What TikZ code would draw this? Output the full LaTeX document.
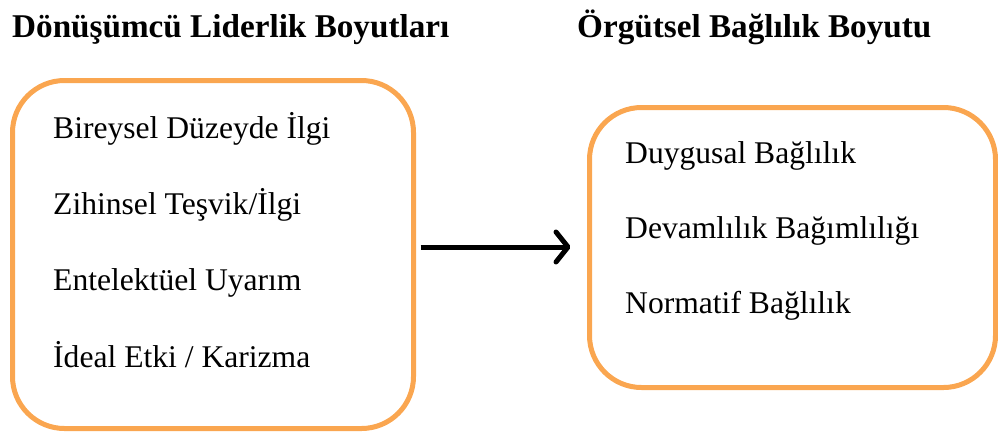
\documentclass[tikz,border=0pt]{standalone}
\usepackage{fontspec}
\setmainfont{Liberation Serif}
\usetikzlibrary{arrows.meta}
\begin{document}
\begin{tikzpicture}[x=1pt,y=-1pt,
  groupbox/.style={draw=boxorange, line width=5pt, rounded corners=52pt},
  heading/.style={anchor=base west, inner sep=0pt, font=\fontsize{33.2}{38}\selectfont\bfseries},
  item/.style={anchor=base west, inner sep=0pt, font=\fontsize{31.6}{36}\selectfont},
  link/.style={line width=5pt, -{Straight Barb[length=12pt,width=30pt,line width=5pt,round]}}]
\definecolor{boxorange}{RGB}{250,166,80}
\useasboundingbox (0,0) rectangle (998,432);

% headings
\node[heading] (hl) at (12,37) {Dönüşümcü Liderlik Boyutları};
\node[heading] (hr) at (577,37) {Örgütsel Bağlılık Boyutu};

% left group
\draw[groupbox] (12.5,80.5) rectangle (413.5,428.5);
\coordinate (lb) at (413.5,247);
\node[item] (l1) at (53,138) {Bireysel Düzeyde İlgi};
\node[item] (l2) at (53,214) {Zihinsel Teşvik/İlgi};
\node[item] (l3) at (53,290) {Entelektüel Uyarım};
\node[item] (l4) at (53,367) {İdeal Etki / Karizma};

% right group
\draw[groupbox] (589.5,107.5) rectangle (995.5,387.5);
\coordinate (rb) at (589.5,247);
\node[item] (r1) at (625,163) {Duygusal Bağlılık};
\node[item] (r2) at (625,238) {Devamlılık Bağımlılığı};
\node[item] (r3) at (625,313) {Normatif Bağlılık};

% connector
\draw[link] ([xshift=7pt]lb) -- ([xshift=-19pt]rb);
\end{tikzpicture}
\end{document}
